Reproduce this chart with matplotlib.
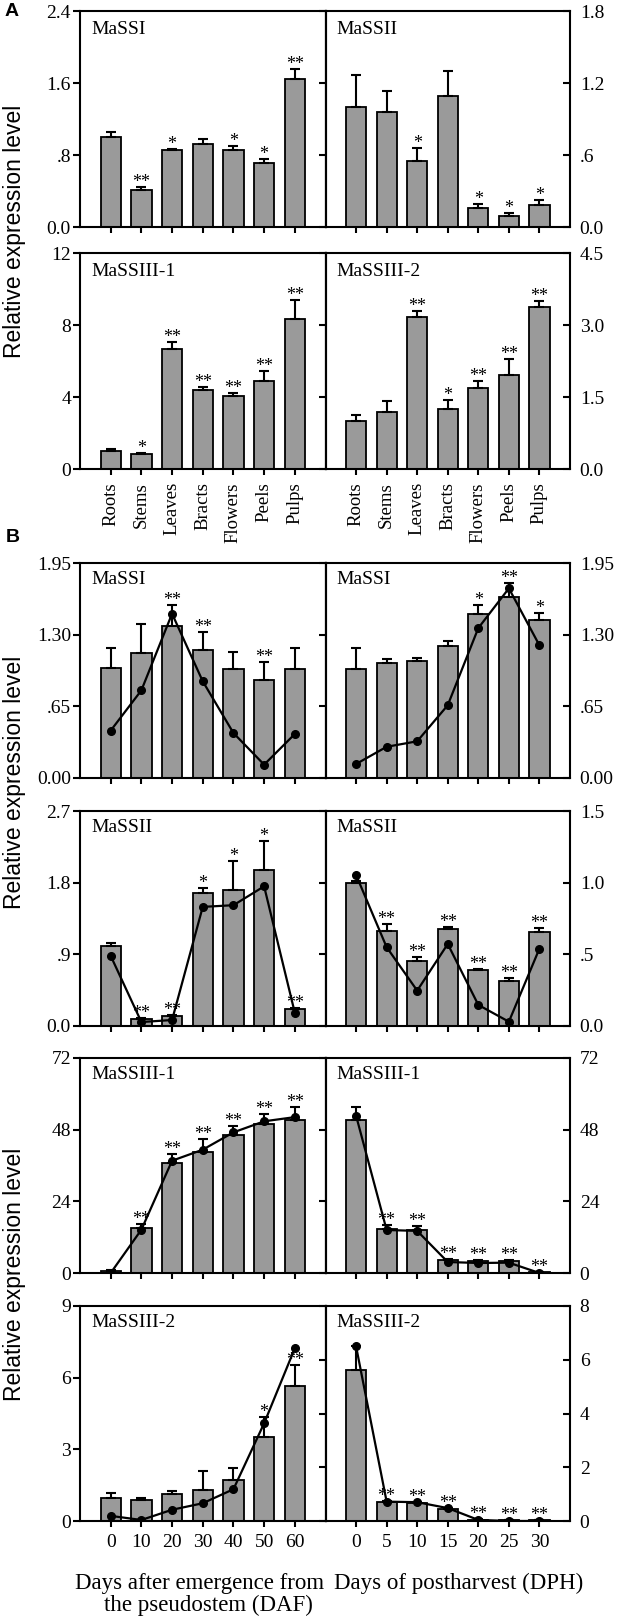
import matplotlib
matplotlib.use('Agg')
import matplotlib.pyplot as plt

plt.rcParams['font.family'] = ['Liberation Serif', 'DejaVu Serif']

# x categories
tissues = ['Roots', 'Stems', 'Leaves', 'Bracts', 'Flowers', 'Peels', 'Pulps']
daf = ['0', '10', '20', '30', '40', '50', '60']
dph = ['0', '5', '10', '15', '20', '25', '30']

# ---- panel A (tissues) ----
a_ssi = [1.00, 0.41, 0.86, 0.92, 0.86, 0.71, 1.64]
a_ssi_err = [0.06, 0.03, 0.01, 0.06, 0.045, 0.05, 0.12]
a_ssi_sig = ['', '**', '*', '', '*', '*', '**']

a_ssii = [1.00, 0.955, 0.553, 1.088, 0.159, 0.095, 0.184]
a_ssii_err = [0.265, 0.18, 0.108, 0.21, 0.03, 0.025, 0.045]
a_ssii_sig = ['', '', '*', '', '*', '*', '*']

a_ssiii1 = [1.02, 0.82, 6.66, 4.39, 4.04, 4.89, 8.35]
a_ssiii1_err = [0.1, 0.05, 0.39, 0.15, 0.16, 0.58, 1.05]
a_ssiii1_sig = ['', '*', '**', '**', '**', '**', '**']

a_ssiii2 = [1.01, 1.18, 3.17, 1.26, 1.68, 1.95, 3.375]
a_ssiii2_err = [0.12, 0.23, 0.12, 0.17, 0.16, 0.35, 0.125]
a_ssiii2_sig = ['', '', '**', '*', '**', '**', '**']

# ---- panel B (development, DAF / postharvest, DPH) ----
b_ssi_daf = [1.00, 1.13, 1.38, 1.16, 0.99, 0.89, 0.99]
b_ssi_daf_err = [0.175, 0.27, 0.19, 0.165, 0.155, 0.165, 0.185]
b_ssi_daf_line = [0.43, 0.795, 1.49, 0.877, 0.408, 0.121, 0.399]
b_ssi_daf_sig = ['', '', '**', '**', '', '**', '']

b_ssi_dph = [0.985, 1.045, 1.065, 1.20, 1.49, 1.64, 1.43]
b_ssi_dph_err = [0.19, 0.03, 0.02, 0.04, 0.075, 0.13, 0.065]
b_ssi_dph_line = [0.127, 0.283, 0.333, 0.66, 1.36, 1.72, 1.203]
b_ssi_dph_sig = ['', '', '', '', '*', '**', '*']

b_ssii_daf = [1.00, 0.09, 0.125, 1.675, 1.712, 1.962, 0.216]
b_ssii_daf_err = [0.04, 0.01, 0.012, 0.054, 0.366, 0.366, 0.01]
b_ssii_daf_line = [0.881, 0.05, 0.075, 1.496, 1.517, 1.754, 0.166]
b_ssii_daf_sig = ['', '**', '**', '*', '*', '*', '**']

b_ssii_dph = [1.0, 0.66, 0.456, 0.678, 0.392, 0.315, 0.655]
b_ssii_dph_err = [0.013, 0.05, 0.024, 0.012, 0.006, 0.02, 0.03]
b_ssii_dph_line = [1.054, 0.55, 0.247, 0.572, 0.147, 0.03, 0.54]
b_ssii_dph_sig = ['', '**', '**', '**', '**', '**', '**']

b_ssiii1_daf = [0.78, 14.96, 36.95, 40.63, 46.2, 49.9, 51.35]
b_ssiii1_daf_err = [0.3, 1.4, 3.0, 4.3, 2.9, 3.3, 4.1]
b_ssiii1_daf_line = [0.0, 14.5, 37.6, 41.3, 47.1, 50.8, 52.2]
b_ssiii1_daf_sig = ['', '**', '**', '**', '**', '**', '**']

b_ssiii1_dph = [51.35, 14.7, 14.4, 4.47, 4.02, 4.13, 0.22]
b_ssiii1_dph_err = [4.1, 1.5, 1.2, 0.35, 0.33, 0.34, 0.23]
b_ssiii1_dph_line = [52.7, 14.4, 14.1, 3.68, 3.35, 3.46, 0.0]
b_ssiii1_dph_sig = ['', '**', '**', '**', '**', '**', '**']

b_ssiii2_daf = [0.97, 0.89, 1.14, 1.29, 1.71, 3.53, 5.64]
b_ssiii2_daf_err = [0.2, 0.08, 0.11, 0.81, 0.5, 0.84, 0.89]
b_ssiii2_daf_line = [0.214, 0.043, 0.471, 0.743, 1.33, 4.09, 7.23]
b_ssiii2_daf_sig = ['', '', '', '', '', '*', '**']

b_ssiii2_dph = [5.63, 0.71, 0.67, 0.45, 0.05, 0.03, 0.02]
b_ssiii2_dph_err = [0.9, 0.02, 0.02, 0.02, 0.01, 0.01, 0.01]
b_ssiii2_dph_line = [6.5, 0.72, 0.70, 0.48, 0.04, 0.0, 0.0]
b_ssiii2_dph_sig = ['', '**', '**', '**', '**', '**', '**']

W, H = 640, 1623
fig = plt.figure(figsize=(W / 100, H / 100), dpi=100)

XL, XM, XR = 80, 325.5, 570   # left spine, divider, right spine (px)


def make_ax(x0, x1, y0, y1):
    return fig.add_axes([x0 / W, 1 - y1 / H, (x1 - x0) / W, (y1 - y0) / H])


def panel(ax, vals, err, sig, ymax, yticks, ylabs, name, side,
          line=None, xlabs=None, rot=0, name_y=0.955):
    x = list(range(len(vals)))
    ax.bar(x, vals, width=0.66, color='#9a9a9a', edgecolor='black',
           linewidth=1.3, zorder=2)
    ax.errorbar(x, vals, yerr=[[0] * len(vals), err], fmt='none',
                ecolor='black', elinewidth=1.5, capsize=3.5, capthick=1.5,
                zorder=3)
    if line is not None:
        ax.plot(x, line, color='black', lw=1.6, marker='o', ms=5.5, zorder=4)
    for i, s in enumerate(sig):
        if s:
            ax.annotate(s, (i, vals[i] + err[i]), xytext=(0, 0),
                        textcoords='offset points', ha='center',
                        va='baseline', fontsize=13, zorder=5)
    ax.text(0.045, name_y, name, transform=ax.transAxes, ha='left', va='top',
            fontsize=14)
    ax.set_xlim(-1, 7)
    ax.set_ylim(0, ymax)
    ax.set_yticks(yticks)
    ax.set_yticklabels(ylabs)
    for sp in ax.spines.values():
        sp.set_linewidth(1.5)
    ax.set_xticks(x)
    if xlabs is None:
        ax.set_xticklabels([])
    else:
        ax.set_xticklabels(xlabs, rotation=rot)
    ax.tick_params(axis='x', direction='out', length=4.5, width=1.5,
                   top=False, labelsize=13.5 if rot else 14, pad=5)
    if side == 'left':
        ax.tick_params(axis='y', left=True, right=False, direction='out',
                       length=5, width=1.5, labelsize=14, pad=1.5)
    else:
        ax.tick_params(axis='y', left=False, right=True, labelleft=False,
                       labelright=True, direction='in', length=5, width=1.5,
                       labelsize=14, pad=7)
        sec = ax.secondary_yaxis('left')
        sec.set_yticks(yticks)
        sec.tick_params(axis='y', direction='out', length=5, width=1.5,
                        labelleft=False)
        sec.spines['left'].set_linewidth(1.5)


rows = [(11, 227), (253, 469), (563, 778), (811, 1026), (1058, 1273), (1306, 1521)]

# A row 1
ax = make_ax(XL, XM, *rows[0])
panel(ax, a_ssi, a_ssi_err, a_ssi_sig, 2.4, [0, 0.8, 1.6, 2.4],
      ['0.0', '.8', '1.6', '2.4'], 'MaSSI', 'left')
ax = make_ax(XM, XR, *rows[0])
panel(ax, a_ssii, a_ssii_err, a_ssii_sig, 1.8, [0, 0.6, 1.2, 1.8],
      ['0.0', '.6', '1.2', '1.8'], 'MaSSII', 'right')

# A row 2
ax = make_ax(XL, XM, *rows[1])
panel(ax, a_ssiii1, a_ssiii1_err, a_ssiii1_sig, 12, [0, 4, 8, 12],
      ['0', '4', '8', '12'], 'MaSSIII-1', 'left', xlabs=tissues, rot=90)
ax = make_ax(XM, XR, *rows[1])
panel(ax, a_ssiii2, a_ssiii2_err, a_ssiii2_sig, 4.5, [0, 1.5, 3.0, 4.5],
      ['0.0', '1.5', '3.0', '4.5'], 'MaSSIII-2', 'right', xlabs=tissues, rot=90)

# B row 1
ax = make_ax(XL, XM, *rows[2])
panel(ax, b_ssi_daf, b_ssi_daf_err, b_ssi_daf_sig, 1.95, [0, 0.65, 1.3, 1.95],
      ['0.00', '.65', '1.30', '1.95'], 'MaSSI', 'left', line=b_ssi_daf_line,
      name_y=0.965)
ax = make_ax(XM, XR, *rows[2])
panel(ax, b_ssi_dph, b_ssi_dph_err, b_ssi_dph_sig, 1.95, [0, 0.65, 1.3, 1.95],
      ['0.00', '.65', '1.30', '1.95'], 'MaSSI', 'right', line=b_ssi_dph_line,
      name_y=0.965)

# B row 2
ax = make_ax(XL, XM, *rows[3])
panel(ax, b_ssii_daf, b_ssii_daf_err, b_ssii_daf_sig, 2.7, [0, 0.9, 1.8, 2.7],
      ['0.0', '.9', '1.8', '2.7'], 'MaSSII', 'left', line=b_ssii_daf_line,
      name_y=0.965)
ax = make_ax(XM, XR, *rows[3])
panel(ax, b_ssii_dph, b_ssii_dph_err, b_ssii_dph_sig, 1.5, [0, 0.5, 1.0, 1.5],
      ['0.0', '.5', '1.0', '1.5'], 'MaSSII', 'right', line=b_ssii_dph_line,
      name_y=0.965)

# B row 3
ax = make_ax(XL, XM, *rows[4])
panel(ax, b_ssiii1_daf, b_ssiii1_daf_err, b_ssiii1_daf_sig, 72, [0, 24, 48, 72],
      ['0', '24', '48', '72'], 'MaSSIII-1', 'left', line=b_ssiii1_daf_line,
      name_y=0.965)
ax = make_ax(XM, XR, *rows[4])
panel(ax, b_ssiii1_dph, b_ssiii1_dph_err, b_ssiii1_dph_sig, 72, [0, 24, 48, 72],
      ['0', '24', '48', '72'], 'MaSSIII-1', 'right', line=b_ssiii1_dph_line,
      name_y=0.965)

# B row 4
ax = make_ax(XL, XM, *rows[5])
panel(ax, b_ssiii2_daf, b_ssiii2_daf_err, b_ssiii2_daf_sig, 9, [0, 3, 6, 9],
      ['0', '3', '6', '9'], 'MaSSIII-2', 'left', line=b_ssiii2_daf_line,
      xlabs=daf, name_y=0.965)
ax = make_ax(XM, XR, *rows[5])
panel(ax, b_ssiii2_dph, b_ssiii2_dph_err, b_ssiii2_dph_sig, 8, [0, 2, 4, 6, 8],
      ['0', '2', '4', '6', '8'], 'MaSSIII-2', 'right', line=b_ssiii2_dph_line,
      xlabs=dph, name_y=0.965)

# axis titles
fig.text(200 / W, 1 - 1589 / H, 'Days after emergence from', ha='center',
         va='baseline', fontsize=16.5)
fig.text(208 / W, 1 - 1611 / H, 'the pseudostem (DAF)', ha='center',
         va='baseline', fontsize=16.5)
fig.text(459 / W, 1 - 1589 / H, 'Days of postharvest (DPH)', ha='center',
         va='baseline', fontsize=16.5)

for yc in [231, 782, 1274]:
    fig.text(15 / W, 1 - yc / H, 'Relative expression level', rotation=90,
             ha='center', va='center', fontsize=16.5, family='Liberation Sans')

fig.text(5 / W, 1 - 3 / H, 'A', ha='left', va='top', fontsize=14,
         fontweight='bold', family='Liberation Sans')
fig.text(6 / W, 1 - 529 / H, 'B', ha='left', va='top', fontsize=14,
         fontweight='bold', family='Liberation Sans')

fig.savefig('out.png', dpi=100)
